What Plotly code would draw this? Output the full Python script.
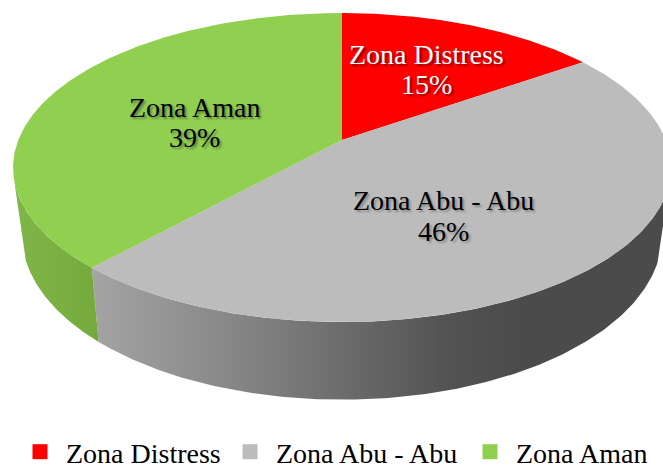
import numpy as np
import plotly.graph_objects as go

# ---- data ----
categories = ["Zona Distress", "Zona Abu - Abu", "Zona Aman"]
shares = [15.3, 46.4, 38.3]
percent_labels = ["15%", "46%", "39%"]

# ---- style ----
top_colors = ["#ff0000", "#bcbcbc", "#90cf50"]
text_colors = ["#ffffff", "#000000", "#000000"]
shadow_colors = ["#8a0000", "#8a8a8a", "#66883f"]
FONT = "Liberation Serif"
W, H = 663, 466
label_xy = [(426, 54, 84), (443, 200, 231), (194, 107, 137)]
legend_px = [14, 224, 464]
LEGEND_CY = 452

# perspective disc: centre position and scale of top and bottom faces
K = 0.178
TOP = dict(cx=342, cy=140, A=323.7, B=149.6)
BOT = dict(cx=342, cy=205.5, A=315.0, B=159.6)


def project(face, theta_deg):
    t = np.radians(theta_deg)
    u, v = np.sin(t), np.cos(t)
    d = 1 + K * v
    return face["cx"] + face["A"] * u / d, face["cy"] - face["B"] * v / d


def arc(face, a, b, n=160):
    return project(face, np.linspace(a, b, n))


total = sum(shares)
edges = np.concatenate([[0], np.cumsum(shares)]) / total * 360
seam = edges[2]
fig = go.Figure()


def wall(top_end, bot_end, scale):
    xt, yt = arc(TOP, seam, top_end)
    xb, yb = arc(BOT, seam, bot_end)
    x = np.concatenate([xt, xb[::-1]])
    y = np.concatenate([yt, yb[::-1]])
    fig.add_trace(go.Scatter(
        x=x, y=y, mode="lines", fill="toself", line=dict(width=0),
        fillgradient=dict(type="horizontal", colorscale=scale,
                          start=float(x.min()), stop=float(x.max())),
        hoverinfo="skip", showlegend=False))


# grey wall: from the seam round to the right-hand silhouette
wall(105, 109, [[0, "#a4a4a4"], [0.22, "#8a8a8a"], [0.42, "#6e6e6e"],
                [0.62, "#525252"], [0.75, "#4b4b4b"], [1, "#4b4b4b"]])
# green wall: from the seam round to the left-hand silhouette
wall(255, 251, [[0, "#80b648"], [1, "#74aa3b"]])

# top faces
for i, cat in enumerate(categories):
    xa, ya = arc(TOP, edges[i], edges[i + 1], 200)
    fig.add_trace(go.Scatter(
        x=np.concatenate([[TOP["cx"]], xa, [TOP["cx"]]]),
        y=np.concatenate([[TOP["cy"]], ya, [TOP["cy"]]]),
        mode="lines", fill="toself", fillcolor=top_colors[i],
        line=dict(width=0), hoverinfo="skip", showlegend=False))

# legend entries, one legend per entry so each can sit where the reference has it
legend_layout = {}
for i, cat in enumerate(categories):
    key = "legend" if i == 0 else f"legend{i + 1}"
    fig.add_trace(go.Scatter(
        x=[None], y=[None], mode="markers", name=cat, legend=key,
        marker=dict(symbol="square", size=15, color=top_colors[i])))
    legend_layout[key] = dict(
        x=legend_px[i] / W, xanchor="left",
        y=1 - LEGEND_CY / H, yanchor="middle",
        font=dict(family=FONT, size=28, color="#000000"),
        bgcolor="rgba(0,0,0,0)", itemwidth=42)

# labels
for i, cat in enumerate(categories):
    lx, y1, y2 = label_xy[i]
    for txt, ly in ((cat, y1), (percent_labels[i], y2)):
        fig.add_annotation(
            x=lx, y=ly, text=txt, showarrow=False, xanchor="center", yanchor="middle",
            font=dict(family=FONT, size=28, color=text_colors[i],
                      shadow=f"2px 2px 2px {shadow_colors[i]}"))

fig.update_layout(
    width=W, height=H, margin=dict(l=0, r=0, t=0, b=0, autoexpand=False),
    paper_bgcolor="white", plot_bgcolor="white",
    xaxis=dict(range=[0, W], visible=False, fixedrange=True),
    yaxis=dict(range=[H, 0], visible=False, fixedrange=True),
    **legend_layout,
)

fig.write_html("out.html", post_script="document.body.style.margin='0';",
               config={"displayModeBar": False})
